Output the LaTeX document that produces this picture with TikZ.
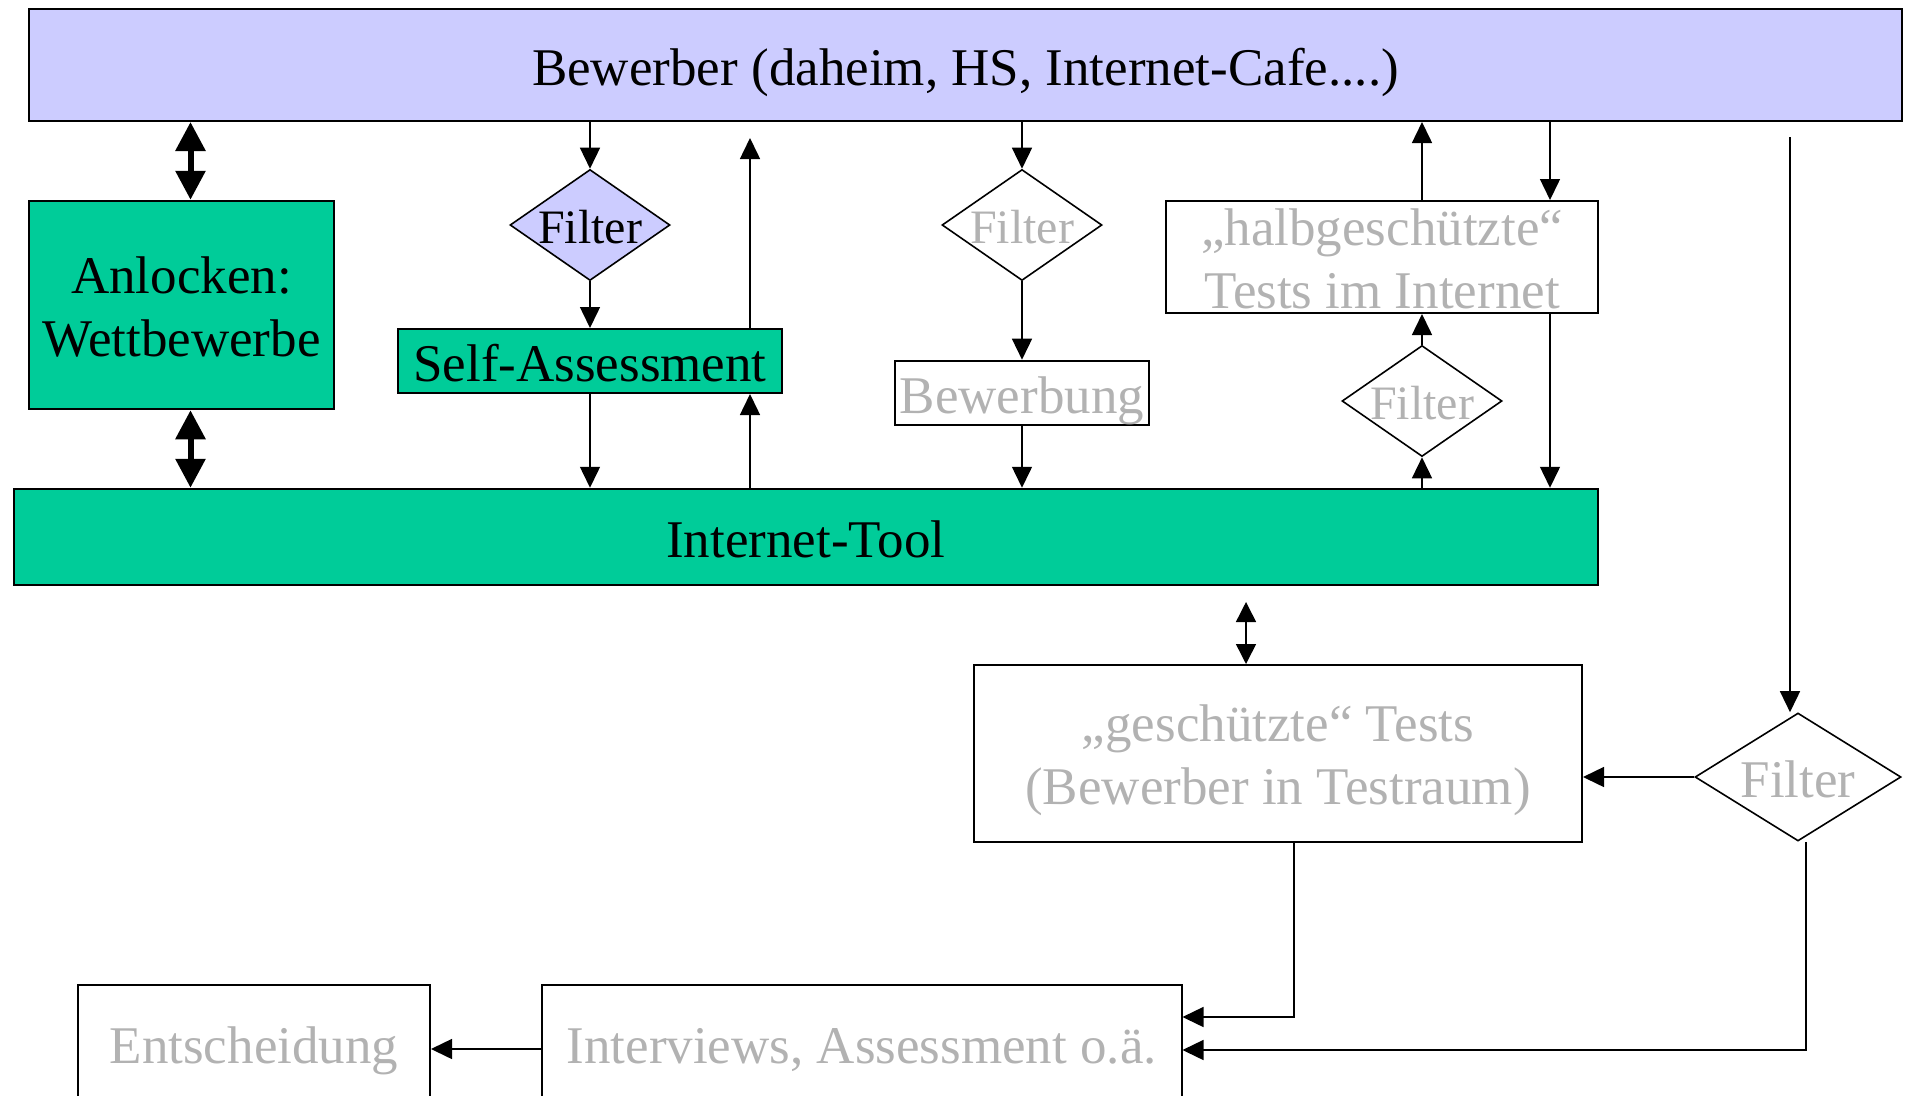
\documentclass[tikz,border=0pt]{standalone}
\usepackage{fontspec}
\setmainfont{Liberation Serif}
\usetikzlibrary{arrows.meta,shapes.geometric,calc}
\definecolor{lav}{HTML}{CCCCFF}
\definecolor{grn}{HTML}{00CC99}
\definecolor{gtx}{HTML}{B2B2B2}
\begin{document}
\begin{tikzpicture}[x=1pt,y=-1pt,
  box/.style={draw, line width=2pt, rectangle, inner sep=0pt, align=center,
    font=\fontsize{53}{63}\selectfont},
  one/.style={text height=#1, text depth=0pt},
  lbl/.style={inner sep=0pt, align=center, font=\fontsize{53}{63}\selectfont},
  gt/.style={text=gtx},
  dia/.style={draw, diamond, line width=1.6pt, inner sep=0pt,
    font=\fontsize{48}{56}\selectfont},
  arr/.style={line width=1.5pt, -{Triangle[width=20pt,length=21pt]}},
  darr/.style={line width=1.5pt, {Triangle[width=20pt,length=20pt]}-{Triangle[width=20pt,length=20pt]}},
  bigarr/.style={line width=6pt, {Triangle[width=29pt,length=29pt]}-{Triangle[width=29pt,length=29pt]}}
]
\path[use as bounding box] (0,0) rectangle (1906,1095);
\clip (0,0) rectangle (1906,1095);

% nodes
\node[box, one=41.3pt, fill=lav, minimum width=1873pt, minimum height=112pt] (bew) at (965.5,65) {Bewerber (daheim, HS, Internet-Cafe....)};
\node[box, fill=grn, minimum width=305pt, minimum height=208.5pt] (anl) at (181.5,305) {};
\node[lbl] (anlt) at ([yshift=-2.5pt]anl.center) {Anlocken:\\Wettbewerbe};
\node[box, one=41.3pt, fill=grn, minimum width=1584.5pt, minimum height=96.5pt] (it) at (805.75,537) {Internet-Tool};
\node[dia, one=37.4pt, fill=lav, minimum width=160pt, minimum height=111pt, aspect=1.44] (f1) at (590,225) {Filter};
\node[box, one=41.3pt, fill=grn, minimum width=384pt, minimum height=64pt] (sa) at (590,361) {Self-Assessment};
\node[dia, one=37.4pt, gt, minimum width=160pt, minimum height=111pt, aspect=1.44] (f2) at (1022,225) {Filter};
\node[box, one=41.3pt, gt, minimum width=254.5pt, minimum height=64.6pt] (bwg) at (1022,393) {Bewerbung};
\node[box, minimum width=432pt, minimum height=112pt] (halb) at (1382,257) {};
\node[lbl, gt] (halbt) at ([yshift=-2pt]halb.center) {„halbgeschützte“\\Tests im Internet};
\node[dia, one=37.4pt, gt, minimum width=160pt, minimum height=111pt, aspect=1.44] (f3) at (1422,401) {Filter};
\node[box, minimum width=608pt, minimum height=177pt] (ges) at (1278,753.5) {};
\node[lbl, gt] (gest) at ([yshift=-6.5pt]ges.center) {„geschützte“ Tests\\(Bewerber in Testraum)};
\node[dia, one=41.3pt, gt, minimum width=206pt, minimum height=128pt, aspect=1.6, font=\fontsize{53}{63}\selectfont] (f4) at (1798,777) {Filter};
\node[box, one=41.3pt, gt, minimum width=639.5pt, minimum height=116pt] (iv) at (861.75,1043) {Interviews, Assessment o.ä.};
\node[box, one=41.3pt, gt, minimum width=352pt, minimum height=116pt] (ent) at (254,1043) {Entscheidung};

\coordinate (saup) at (750,138);
\coordinate (gtop) at (1246,602);
\coordinate (rtop) at (1790,137);

% connectors
\draw[bigarr] ([xshift=9pt]anl.north |- bew.south) -- ([xshift=9pt]anl.north);
\draw[bigarr] ([xshift=9pt]anl.south) -- ([xshift=9pt]anl.south |- it.north);

\draw[arr] (f1.north |- bew.south) -- (f1.north);
\draw[arr] (f1.south) -- (sa.north);
\draw[arr] (sa.south) -- (sa.south |- it.north);
\draw[arr] ([xshift=160pt]sa.south |- it.north) -- ([xshift=160pt]sa.south);
\draw[arr] ([xshift=160pt]sa.north) -- (saup);

\draw[arr] (f2.north |- bew.south) -- (f2.north);
\draw[arr] (f2.south) -- (bwg.north);
\draw[arr] (bwg.south) -- (bwg.south |- it.north);

\draw[arr] (f3.south |- it.north) -- (f3.south);
\draw[arr] (f3.north) -- (f3.north |- halb.south);
\draw[arr] (f3.north |- halb.north) -- (f3.north |- bew.south);
\draw[arr] ([xshift=168pt]halb.north |- bew.south) -- ([xshift=168pt]halb.north);
\draw[arr] ([xshift=168pt]halb.south) -- ([xshift=168pt]halb.south |- it.north);

\draw[darr] (gtop) -- (gtop |- ges.north);

\draw[arr] (rtop) -- (rtop |- f4.north);
\draw[arr] (f4.west) -- (f4.west -| ges.east);
\draw[arr] ([xshift=16pt]ges.south) |- ([yshift=26pt]iv.east);
\draw[arr] ([xshift=8pt]f4.south) |- ([yshift=-7pt]iv.east);
\draw[arr] ([yshift=-6pt]iv.west) -- ([yshift=-6pt]ent.east);
\end{tikzpicture}
\end{document}
